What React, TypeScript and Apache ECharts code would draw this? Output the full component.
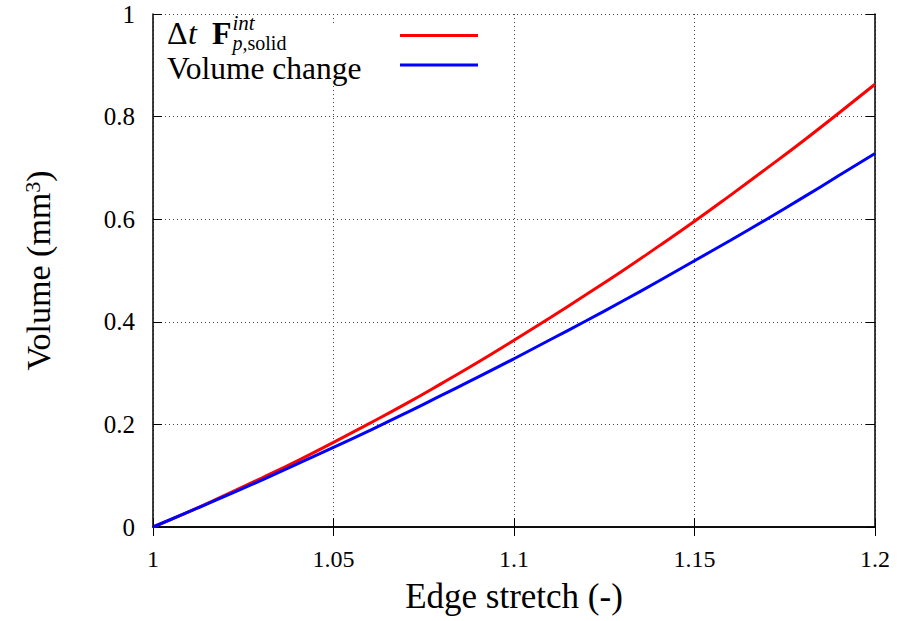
import React, { useEffect, useRef } from "react";
import * as echarts from "echarts";

const stretch = [1.0, 1.01, 1.02, 1.03, 1.04, 1.05, 1.06, 1.07, 1.08, 1.09, 1.1, 1.11, 1.12, 1.13, 1.14, 1.15, 1.16, 1.17, 1.18, 1.19, 1.2];
const forceVolume = [0, 0.030, 0.062, 0.095, 0.129, 0.165, 0.202, 0.240, 0.280, 0.321, 0.364, 0.408, 0.453, 0.499, 0.547, 0.596, 0.647, 0.699, 0.752, 0.807, 0.863];
const volumeChange = [0, 0.030, 0.060, 0.091, 0.123, 0.155, 0.188, 0.222, 0.257, 0.292, 0.328, 0.365, 0.402, 0.440, 0.479, 0.519, 0.559, 0.600, 0.642, 0.685, 0.728];

const xTicks = { min: 1, max: 1.2, interval: 0.05 };
const yTicks = { min: 0, max: 1, interval: 0.2 };

const SERIF = "Liberation Serif";

function txt(x: number, y: number, text: string, size: number, lineHeight: number, extra: any = {}) {
  return {
    type: "text",
    z: 10,
    style: {
      x,
      y,
      text,
      fontFamily: SERIF,
      fontSize: size,
      lineHeight,
      fill: "#000",
      verticalAlign: "middle",
      ...extra,
    },
  };
}

export default function App() {
  const ref = useRef<HTMLDivElement>(null);
  useEffect(() => {
    if (!ref.current) return;
    const chart = echarts.init(ref.current, undefined, { renderer: "svg" });
    const gridLine = { show: true, lineStyle: { color: "#444", width: 1, type: [1, 3] as any } };
    const axisLine = { show: true, lineStyle: { color: "#000", width: 1.5 } };
    const tick = { show: true, inside: true, length: 9, lineStyle: { color: "#000", width: 1 } };
    chart.setOption({
      animation: false,
      backgroundColor: "#fff",
      grid: { left: 153, right: 23, top: 14, bottom: 94, containLabel: false },
      xAxis: [
        {
          type: "value",
          ...xTicks,
          position: "bottom",
          axisLine,
          axisTick: tick,
          splitLine: gridLine,
          axisLabel: { color: "#000", fontFamily: SERIF, fontSize: 24, margin: 20 },
          name: "Edge stretch (-)",
          nameLocation: "middle",
          nameGap: 52,
          nameTextStyle: { color: "#000", fontFamily: SERIF, fontSize: 35 },
        },
        {
          type: "value",
          ...xTicks,
          position: "top",
          axisLine,
          axisTick: tick,
          splitLine: { show: false },
          axisLabel: { show: false },
        },
      ],
      yAxis: [
        {
          type: "value",
          ...yTicks,
          position: "left",
          axisLine,
          axisTick: tick,
          splitLine: gridLine,
          axisLabel: { color: "#000", fontFamily: SERIF, fontSize: 25, margin: 18 },
          name: "{a|Volume (mm}{b|3}{a|)}",
          nameLocation: "middle",
          nameRotate: 90,
          nameGap: 98,
          nameTextStyle: {
            color: "#000",
            fontFamily: SERIF,
            fontSize: 34,
            rich: {
              a: { fontFamily: SERIF, fontSize: 34, color: "#000" },
              b: { fontFamily: SERIF, fontSize: 22, color: "#000", verticalAlign: "top", padding: [0, 0, 6, 0] },
            },
          },
        },
        {
          type: "value",
          ...yTicks,
          position: "right",
          axisLine,
          axisTick: tick,
          splitLine: { show: false },
          axisLabel: { show: false },
        },
      ],
      series: [
        {
          name: "Δt F int p,solid",
          type: "line",
          xAxisIndex: 0,
          yAxisIndex: 0,
          data: stretch.map((x, i) => [x, forceVolume[i]]),
          showSymbol: false,
          smooth: true,
          lineStyle: { color: "#ff0000", width: 3 },
          itemStyle: { color: "#ff0000" },
          z: 3,
        },
        {
          name: "Volume change",
          type: "line",
          xAxisIndex: 0,
          yAxisIndex: 0,
          data: stretch.map((x, i) => [x, volumeChange[i]]),
          showSymbol: false,
          smooth: true,
          lineStyle: { color: "#0000ff", width: 3 },
          itemStyle: { color: "#0000ff" },
          z: 4,
        },
      ],
      graphic: [
        {
          type: "rect",
          z: 1,
          shape: { x: 155, y: 23, width: 345, height: 60 },
          style: { fill: "#fff" },
        },
        txt(167, 32.5, "Δ", 32, 24),
        txt(188, 32.5, "t", 32, 24, { fontStyle: "italic" }),
        txt(212, 32.5, "F", 32, 24, { fontWeight: "bold" }),
        {
          type: "text",
          z: 10,
          style: {
            x: 232.5,
            y: 12.5,
            verticalAlign: "top",
            text: "{i|int}\n{s|p,}{n|solid}",
            fill: "#000",
            fontFamily: SERIF,
            fontSize: 20,
            rich: {
              i: { fontFamily: SERIF, fontSize: 21, fontStyle: "italic", lineHeight: 20, fill: "#000" },
              s: { fontFamily: SERIF, fontSize: 20, fontStyle: "italic", lineHeight: 20, fill: "#000" },
              n: { fontFamily: SERIF, fontSize: 20, lineHeight: 20, fill: "#000" },
            },
          },
        },
        txt(167, 68.5, "Volume change", 31.5, 24),
        { type: "line", z: 10, shape: { x1: 400, y1: 35.5, x2: 478, y2: 35.5 }, style: { stroke: "#ff0000", lineWidth: 3 } },
        { type: "line", z: 10, shape: { x1: 400, y1: 65, x2: 478, y2: 65 }, style: { stroke: "#0000ff", lineWidth: 3 } },
      ],
    });
    return () => chart.dispose();
  }, []);
  return <div ref={ref} style={{ position: "fixed", left: 0, top: 0, width: 898, height: 621, background: "#fff" }} />;
}
